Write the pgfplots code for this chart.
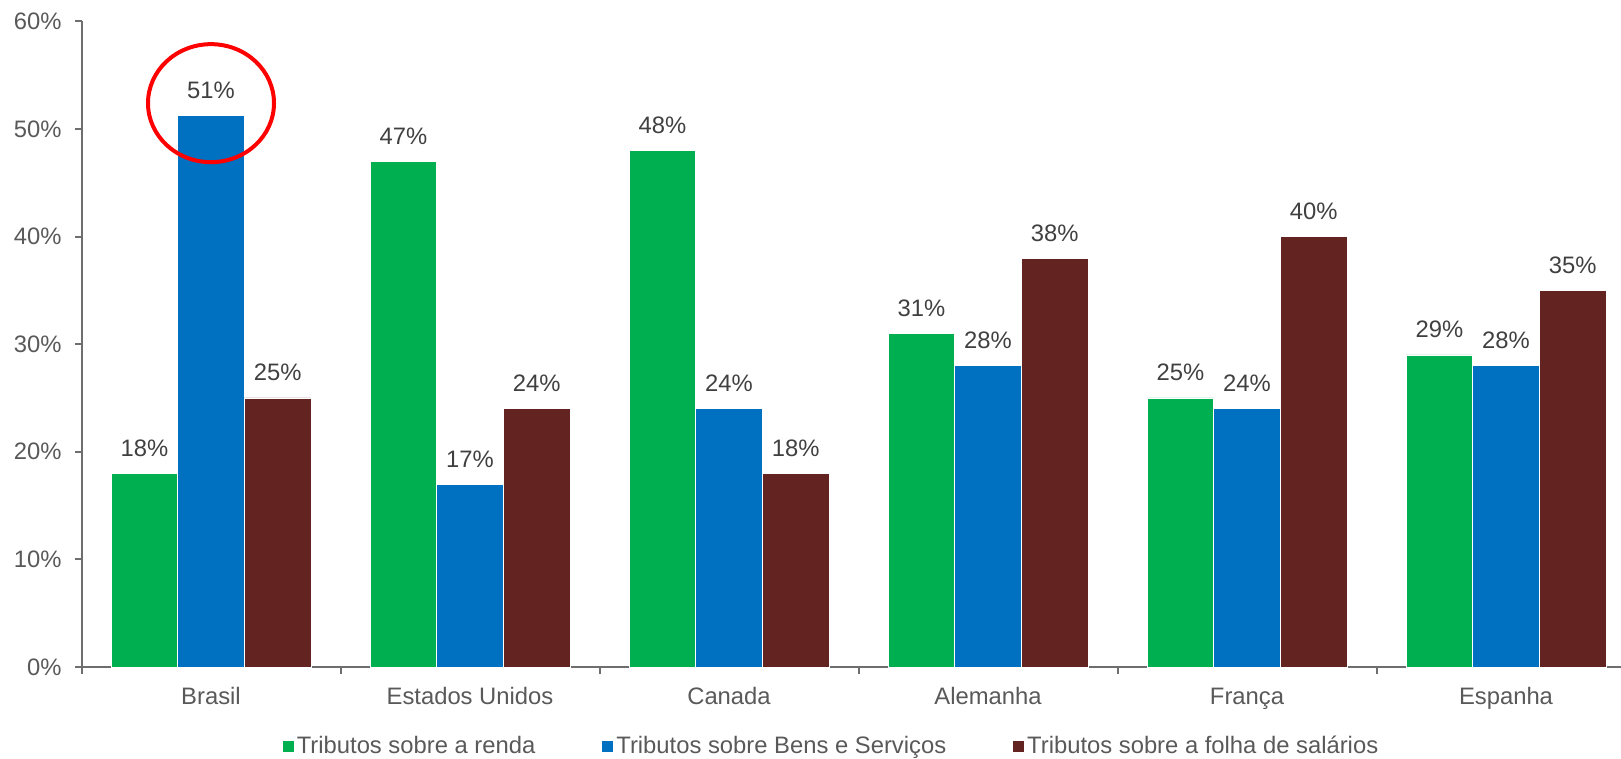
\documentclass[border=0pt]{standalone}
\usepackage{pgfplots}
\pgfplotsset{compat=1.18}
\usepackage{fontspec}
\setmainfont{Liberation Sans}
\definecolor{cgreen}{RGB}{0,176,80}
\definecolor{cblue}{RGB}{0,112,192}
\definecolor{cbrown}{RGB}{98,35,33}
\definecolor{tickgray}{RGB}{89,89,89}
\definecolor{labgray}{RGB}{64,64,64}
\definecolor{axgray}{RGB}{110,110,110}
\newcommand{\chfont}{\fontsize{11.9}{14}\selectfont}
\begin{document}
\begin{tikzpicture}
\path[use as bounding box] (-40.75pt,-46pt) rectangle (769.75pt,333.5pt);
\begin{axis}[
  at={(0pt,0pt)}, anchor=south west,
  scale only axis, width=769.75pt, height=322.8pt,
  ybar, bar width=33.3pt,
  legend image code/.code={\fill[#1,draw=none] (0pt,-2.75pt) rectangle (5.5pt,2.75pt);},
  xmin=-0.5, xmax=5.444, ymin=0, ymax=60,
  enlargelimits=false, clip=false,
  axis x line*=bottom, axis y line*=left,
  axis line style={axgray, line width=1pt},
  /pgf/number format/assume math mode=true,
  ytick={0,10,20,30,40,50,60},
  yticklabels={0\%,10\%,20\%,30\%,40\%,50\%,60\%},
  yticklabel style={anchor=east, inner sep=0pt, xshift=-6.75pt, font=\chfont, text=tickgray},
  ytick style={axgray, line width=1pt},
  tick align=outside,
  major tick length=3pt,
  xtick={0,1,2,3,4,5},
  xticklabels={Brasil,Estados Unidos,Canada,Alemanha,França,Espanha},
  xticklabel style={anchor=base, inner sep=0pt, yshift=-15.8pt, font=\chfont, text=tickgray},
  xtick style={draw=none},
  extra x ticks={-0.5,0.5,1.5,2.5,3.5,4.5},
  extra x tick labels={},
  extra x tick style={xtick style={draw=axgray, line width=1pt}, major tick length=3.5pt, tick align=outside},
  nodes near coords={\pgfmathprintnumber[fixed,precision=0]{\pgfplotspointmeta}\%},
  every node near coord/.append style={anchor=base, inner sep=0pt, yshift=8.5pt, font=\chfont, text=labgray},
  legend columns=3,
  legend style={at={(0.4875,-0.1225)}, anchor=center, draw=none, fill=none, font=\chfont, text=tickgray,
    nodes={inner xsep=1.5pt},
    /tikz/every even column/.append style={column sep=32pt}},
]
\addplot[fill=cgreen, draw=white, line width=0.4pt, bar shift=-33.3pt] coordinates {(0,18) (1,47) (2,48) (3,31) (4,25) (5,29)};
\addplot[fill=cblue, draw=white, line width=0.4pt, bar shift=0pt] coordinates {(0,51.3) (1,17) (2,24) (3,28) (4,24) (5,28)};
\addplot[fill=cbrown, draw=white, line width=0.4pt, bar shift=33.3pt] coordinates {(0,25) (1,24) (2,18) (3,38) (4,40) (5,35)};
\legend{Tributos sobre a renda, Tributos sobre Bens e Serviços, Tributos sobre a folha de salários}
\draw[red, line width=2pt] (axis cs:0,52.4) ellipse [x radius=31.5pt, y radius=29.5pt];
\end{axis}
\end{tikzpicture}
\end{document}
